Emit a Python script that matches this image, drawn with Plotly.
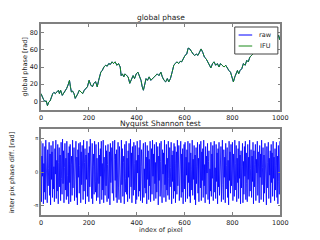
import plotly.graph_objects as go

# global phase
pix_idx = [0, 5, 11, 16, 22, 27, 32, 38, 43, 49, 54, 60, 66, 73, 77, 82, 89, 94, 100, 107,
           113, 119, 123, 127, 132, 138, 143, 148, 154, 160, 167, 174, 181, 188, 194, 201, 208, 215, 221, 228,
           235, 241, 246, 250, 256, 263, 270, 277, 283, 290, 297, 303, 310, 317, 324, 331, 335, 340, 346, 351,
           358, 364, 371, 378, 385, 391, 398, 405, 412, 418, 423, 428, 433, 439, 445, 452, 459, 466, 472, 479,
           486, 493, 499, 501, 507, 514, 521, 528, 534, 541, 548, 555, 561, 568, 575, 582, 588, 595, 602, 609,
           615, 622, 629, 636, 642, 649, 656, 663, 669, 676, 683, 690, 696, 703, 710, 717, 723, 730, 737, 744,
           750, 757, 765, 772, 779, 785, 792, 799, 804, 810, 815, 821, 826, 832, 839, 846, 853, 860, 866, 873,
           880, 886, 893, 900, 910, 920, 930, 940, 950, 960, 970, 980, 988, 993, 997, 1000]
raw_phase = [9, 5, 2, 0, 0.5, -5, -1, 0.5, 5, 9, 10.5, 9, 11, 13, 9, 13, 7, 9, 12, 15,
             19, 24.5, 17, 11, 12, 9, 3.5, 7, 9, 13, 11, 9, 13, 15, 17, 24.5, 19, 17, 21, 23,
             17, 24.5, 30, 34, 36, 40, 42, 41, 44, 43, 46, 44, 46, 42, 44, 40, 30, 32, 28.5, 32,
             30, 28.5, 21, 26.5, 30, 26.5, 32, 34, 28.5, 24.5, 17, 13, 19, 26.5, 24.5, 28.5, 24.5, 26.5, 28.5, 30,
             32, 30, 32, 34, 28.5, 24.6, 22.7, 26.6, 22.7, 26.6, 34, 42, 44, 46, 44, 46.6, 46, 49.6, 53.5, 55,
             62, 61, 57, 55, 53.5, 55, 53.5, 57, 61, 57, 51.5, 49.6, 46, 42, 39, 44, 46, 42, 44, 40,
             44, 42, 40, 42, 38, 36, 34, 28.5, 22.7, 28.5, 32, 36, 32, 36, 38, 44, 42, 47.7, 46, 51.5,
             53.5, 55, 57, 60, 63, 61, 66, 68, 66, 71, 73, 70, 74, 77, 72, 75]
ifu_phase = list(raw_phase)

# inter pixel phase difference (lower panel), every second pixel
diff_idx = list(range(0, 1000, 2))
phase_diff = [
    2.9, -2.8, 1.5, -0.4, 2.7, -3.0, 0.8, -1.9, 2.4, -2.6, 3.0, -0.9, 1.2, -2.9, 2.1, -1.3, 0.3, 2.8, -2.2, 1.7,
    -3.1, 2.5, -0.7, 1.9, -2.4, 2.9, -1.6, 0.5, -2.8, 2.2, -0.2, 3.0, -2.5, 1.1, -1.8, 2.6, -3.0, 0.9, 2.3, -1.4,
    1.6, -2.7, 2.8, -0.6, -2.1, 3.1, -1.1, 2.0, -2.9, 0.4, 2.7, -1.7, 1.3, -2.6, 2.9, -0.3, -2.3, 1.8, -3.0, 2.4,
    -1.0, 2.6, -2.8, 0.7, 1.5, -2.2, 3.0, -1.5, 0.1, 2.3, -2.7, 1.0, -0.8, 2.9, -2.4, 1.4, -3.1, 2.1, -0.5, 2.7,
    -2.0, 0.6, 2.8, -2.9, 1.9, -1.2, 2.5, -0.1, -2.6, 3.0, -1.8, 0.9, 2.2, -3.0, 1.6, -0.7, 2.9, -2.3, 0.2, 1.8,
    -2.8, 2.4, -1.4, 3.1, -0.6, 1.1, -2.5, 2.7, -3.0, 0.5, 1.7, -2.1, 2.9, -0.9, -1.9, 2.6, -2.7, 1.3, 0.0, -2.4,
    2.8, -1.1, 1.6, -3.0, 2.2, -0.4, 2.9, -2.6, 0.8, -1.7, 3.0, -2.9, 1.4, 0.3, -2.2, 2.5, -1.3, 2.0, -2.8, 0.7,
    2.6, -2.5, -0.2, 1.9, -3.1, 2.7, -1.0, 0.4, 2.3, -2.0, 2.9, -1.6, -2.7, 1.2, 3.0, -0.8, 1.7, -2.4, 2.1, -2.9,
    0.6, 2.8, -1.5, -2.6, 2.4, -0.3, 1.0, -2.9, 3.0, -1.2, 2.2, -2.3, 0.9, 1.5, -3.0, 2.6, -0.6, -1.9, 2.9, -2.1,
    1.3, -2.8, 2.0, -0.5, 2.7, -2.5, 0.2, 3.1, -1.4, 1.8, -2.9, 2.4, -0.9, -2.2, 2.8, -1.7, 0.8, 2.5, -3.0, 1.1,
    -2.6, 2.9, -0.1, 1.6, -2.3, 2.3, -1.8, 3.0, -2.7, 0.5, 2.1, -1.0, -2.9, 1.9, 2.7, -2.4, 0.3, -1.5, 2.8, -2.0,
    1.4, -3.0, 2.5, -0.7, 2.0, -2.6, 1.2, -1.3, 2.9, -2.8, 0.6, 2.2, -2.1, 3.0, -0.4, 1.7, -2.7, 2.6, -1.1, 0.9,
    -2.5, 2.8, -1.9, 0.1, 2.4, -3.1, 1.5, -0.8, 2.7, -2.3, 1.0, 2.9, -1.6, -2.9, 2.1, -0.2, 1.8, -2.4, 3.0, -1.2,
    0.7, -2.8, 2.6, -1.7, 1.3, -2.2, 2.9, -0.6, -2.6, 2.3, -1.4, 0.4, 2.8, -3.0, 1.6, -0.9, 2.0, -2.5, 2.7, -1.8,
    2.4, -2.9, 0.8, 1.9, -2.1, 3.0, -1.3, 0.0, 2.5, -2.7, 1.1, -0.5, 2.9, -2.4, 1.7, -1.9, 2.2, -3.0, 0.6, 2.6,
    -1.6, 2.8, -2.8, 1.4, -0.3, 2.1, -2.5, 2.9, -1.0, 0.9, -2.3, 2.7, -2.9, 1.8, 0.2, -1.7, 3.0, -2.2, 1.2, -0.7,
    2.5, -2.6, 1.6, -3.1, 2.3, -1.1, 0.5, 2.8, -2.0, 1.3, -2.8, 2.6, -0.4, -1.5, 2.9, -2.7, 1.9, -0.8, 2.2, -2.4,
    3.0, -1.3, 0.7, -2.9, 2.4, -2.1, 1.5, -0.1, 2.7, -2.6, 1.0, 2.0, -3.0, 0.3, -1.8, 2.8, -2.3, 1.7, -0.6, 2.5,
    -2.7, 1.2, 2.9, -1.9, 0.4, -2.5, 2.6, -0.9, 1.8, -3.0, 2.2, -1.4, 2.8, -2.2, 0.9, -0.2, 2.4, -2.8, 1.5, 3.0,
    -1.2, -2.6, 2.1, -0.5, 1.4, -2.9, 2.7, -1.6, 0.6, 2.3, -2.4, 1.1, -3.1, 2.9, -0.8, 1.9, -2.0, 2.6, -1.3, 0.2,
    2.8, -2.7, 1.7, -0.3, -2.3, 3.0, -1.7, 0.8, 2.5, -2.8, 1.3, -1.0, 2.2, -2.5, 2.9, -0.6, 1.6, -3.0, 2.0, -1.5,
    0.5, 2.7, -2.9, 1.0, -2.1, 2.4, -0.4, 2.9, -2.6, 1.8, -1.1, -2.8, 2.6, -0.7, 1.4, -2.3, 3.0, -1.8, 0.3, 2.1,
    -2.4, 1.5, -0.9, 2.8, -3.0, 2.0, -1.4, 0.7, 2.6, -2.7, 1.2, -0.1, 2.9, -2.2, 1.9, -1.6, -2.9, 2.5, -0.5, 1.7,
    -2.6, 3.0, -1.2, 0.4, 2.3, -2.8, 1.6, -2.0, 2.7, -0.8, 1.1, -3.1, 2.4, -1.5, 0.9, 2.8, -2.5, 1.3, -0.3, 2.0,
    -2.9, 2.6, -1.0, 1.8, -2.3, 2.9, -0.6, 1.4, -2.7, 2.2, -1.7, 0.6, 2.8, -2.4, 1.5, -3.0, 2.5, -0.9, -2.1, 2.9,
]

x_ticks = [0, 200, 400, 600, 800, 1000]
top_y_ticks = [0, 20, 40, 60, 80]
pi_ticks = [-3.14159, 0, 3.14159]
pi_labels = ["-π", "0", "π"]

FONT = "DejaVu Sans"
frame = "#808080"
txt = "#222222"
W, H, OFF = 320, 240, 8   # page body margin shifts the figure by 8px


def px(x, y):
    # screen pixel -> paper coords
    return (x - OFF) / W, 1 - (y - OFF) / H


fig = go.Figure()
fig.add_trace(go.Scatter(x=pix_idx, y=raw_phase, mode="lines", name="raw",
                         line=dict(color="#0000ff", width=1), xaxis="x", yaxis="y"))
fig.add_trace(go.Scatter(x=pix_idx, y=ifu_phase, mode="lines", name="IFU",
                         line=dict(color="#1a8a1a", width=1), xaxis="x", yaxis="y"))
fig.add_trace(go.Scatter(x=diff_idx, y=phase_diff, mode="lines", showlegend=False,
                         line=dict(color="#0000ff", width=0.8), xaxis="x2", yaxis="y2"))

axis_common = dict(showline=True, mirror="ticks", linecolor=frame, linewidth=1.5,
                   ticks="inside", ticklen=3, tickcolor=frame, showgrid=False, zeroline=False,
                   tickfont=dict(family=FONT, size=6.5, color=txt))

xl, yt = px(40, 24)
xr, yb = px(287, 110)
_, yt2 = px(40, 129)
_, yb2 = px(40, 215)

fig.update_layout(
    width=W, height=H,
    margin=dict(l=0, r=0, t=0, b=0),
    paper_bgcolor="white", plot_bgcolor="white",
    font=dict(family=FONT, color=txt),
    showlegend=False,
    xaxis=dict(domain=[xl, xr], anchor="y", range=[0, 1000], tickvals=x_ticks, **axis_common),
    yaxis=dict(domain=[yb, yt], anchor="x", range=[-10, 90], tickvals=top_y_ticks, **axis_common),
    xaxis2=dict(domain=[xl, xr], anchor="y2", range=[0, 1000], tickvals=x_ticks, **axis_common),
    yaxis2=dict(domain=[yb2, yt2], anchor="x2", range=[-4.05, 4.05], tickvals=pi_ticks,
                ticktext=pi_labels, **{**axis_common, "tickfont": dict(family=FONT, size=5, color=txt)}),
)

# titles and axis labels
anns = [
    ("global phase", 163.5, 18, 7.5, 0),
    ("Nyquist Shannon test", 163.5, 123.5, 7.5, 0),
    ("index of pixel", 163.5, 230, 6.5, 0),
    ("global phase [rad]", 23, 67, 6.5, -90),
    ("inter pix phase diff. [rad]", 10, 172, 6.5, -90),
]
for text, ax, ay, size, ang in anns:
    x, y = px(ax, ay)
    fig.add_annotation(text=text, x=x, y=y, xref="paper", yref="paper",
                       showarrow=False, xanchor="center", yanchor="middle", textangle=ang,
                       font=dict(family=FONT, size=size, color=txt))

# legend box drawn by hand (plotly legend rows are too tall at this size)
bx0, by0 = px(240, 27)
bx1, by1 = px(284.5, 54)
fig.add_shape(type="rect", xref="paper", yref="paper", x0=bx0, y0=by1, x1=bx1, y1=by0,
              fillcolor="white", line=dict(color="#444444", width=1), layer="above")
for name, col, ly in [("raw", "#0000ff", 35), ("IFU", "#1a8a1a", 46)]:
    lx0, yy = px(244, ly)
    lx1, _ = px(258, ly)
    fig.add_shape(type="line", xref="paper", yref="paper", x0=lx0, y0=yy, x1=lx1, y1=yy,
                  line=dict(color=col, width=1), layer="above")
    tx, _ = px(272, ly)
    fig.add_annotation(text=name, x=tx, y=yy, xref="paper", yref="paper", showarrow=False,
                       xanchor="center", yanchor="middle",
                       font=dict(family=FONT, size=6.5, color=txt))

fig.write_html("out.html")
